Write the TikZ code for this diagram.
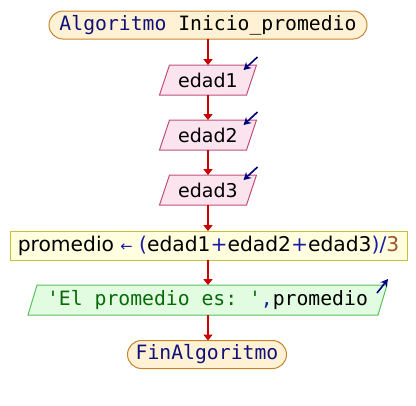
\documentclass[tikz,border=0pt]{standalone}
\usepackage{fontspec}
\setsansfont{DejaVu Sans}
\setmonofont{DejaVu Sans Mono}
\usetikzlibrary{arrows.meta,calc,backgrounds}

\definecolor{flowred}{HTML}{CC0000}
\definecolor{termfill}{HTML}{FFF2D4}
\definecolor{termline}{HTML}{C8842C}
\definecolor{infill}{HTML}{FCE4EE}
\definecolor{inline}{HTML}{C0507C}
\definecolor{procfill}{HTML}{FFFFE0}
\definecolor{procline}{HTML}{C8C034}
\definecolor{outfill}{HTML}{E2FCE2}
\definecolor{outline}{HTML}{5CC05C}
\definecolor{kw}{HTML}{10107A}
\definecolor{op}{HTML}{1A1AA8}
\definecolor{num}{HTML}{A0522D}
\definecolor{str}{HTML}{0A6A0A}
\definecolor{ioarrow}{HTML}{000080}

\newcommand{\assignarrow}{{\fontsize{11}{12}\selectfont\textcolor{op}{←}}}

\tikzset{
  monotext/.style={font=\ttfamily\fontsize{14.8}{16}\selectfont},
  sanstext/.style={font=\sffamily\fontsize{14.25}{16}\selectfont},
  terminal/.style={monotext, draw=termline, fill=termfill, line width=0.75pt,
    rounded corners=10.5pt, inner sep=0pt, outer sep=0pt, minimum height=28*0.75pt},
  inbox/.style={sanstext, inner sep=0pt, outer sep=0pt, minimum height=30*0.75pt},
  outbox/.style={monotext, inner sep=0pt, outer sep=0pt, minimum height=30*0.75pt},
  procbox/.style={font=\sffamily\fontsize{15.2}{16}\selectfont, draw=procline, fill=procfill,
    line width=0.75pt, inner sep=0pt, outer sep=0pt, minimum height=29*0.75pt},
  inshape/.style={draw=inline, fill=infill, line width=0.75pt},
  outshape/.style={draw=outline, fill=outfill, line width=0.75pt},
  flow/.style={draw=flowred, line width=1.5pt, -{Triangle[length=4.5pt,width=6.8pt]}},
  iomark/.style={draw=ioarrow, line width=1.2pt, -{Stealth[length=5.5pt,width=6pt]}}
}

\begin{document}
\begin{tikzpicture}[x=0.75pt,y=-0.75pt]
\useasboundingbox (0,0) rectangle (416,405);

% flowchart blocks, top to bottom
\node[terminal, minimum width=318*0.75pt] (start) at (208,25)
  {\textcolor{kw}{Algoritmo} Inicio\_promedio};
\node[inbox, minimum width=97*0.75pt] (in1) at (208,80) {edad1};
\node[inbox, minimum width=97*0.75pt] (in2) at (208,135) {edad2};
\node[inbox, minimum width=97*0.75pt] (in3) at (208,190) {edad3};
\node[procbox, minimum width=397*0.75pt] (calc) at (208.5,245.5)
  {promedio \assignarrow{} \textcolor{op}{(}edad1\textcolor{op}{+}edad2\textcolor{op}{+}edad3\textcolor{op}{)/}\textcolor{num}{3}};
\node[outbox, minimum width=359*0.75pt] (show) at (207.5,300)
  {\textcolor{str}{'El promedio es: '}\textcolor{op}{,}promedio};
\node[terminal, minimum width=159*0.75pt] (stop) at (207,354.5)
  {\textcolor{kw}{FinAlgoritmo}};

% slanted outlines of the read and write blocks
\begin{scope}[on background layer]
  \foreach \n in {in1,in2,in3}{
    \draw[inshape] ($(\n.north west)+(10,0)$) -- (\n.north east)
      -- ($(\n.south east)+(-10,0)$) -- (\n.south west) -- cycle;
  }
  \draw[outshape] ($(show.north west)+(9,0)$) -- (show.north east)
    -- ($(show.south east)+(-9,0)$) -- (show.south west) -- cycle;
\end{scope}

% read / write markers
\foreach \n in {in1,in2,in3}{
  \draw[iomark] ($(\n.north east)+(1,-8)$) -- ($(\n.north east)+(-13,5)$);
}
\draw[iomark] ($(show.north east)+(-10,8)$) -- ($(show.north east)+(1,-6)$);

% flow connectors
\draw[flow] (start.south -| in1.north) -- (in1.north);
\draw[flow] (in1.south) -- (in2.north);
\draw[flow] (in2.south) -- (in3.north);
\draw[flow] (in3.south) -- (in3.south |- calc.north);
\draw[flow] (in3.south |- calc.south) -- (in3.south |- show.north);
\draw[flow] (in3.south |- show.south) -- (in3.south |- stop.north);
\end{tikzpicture}
\end{document}
